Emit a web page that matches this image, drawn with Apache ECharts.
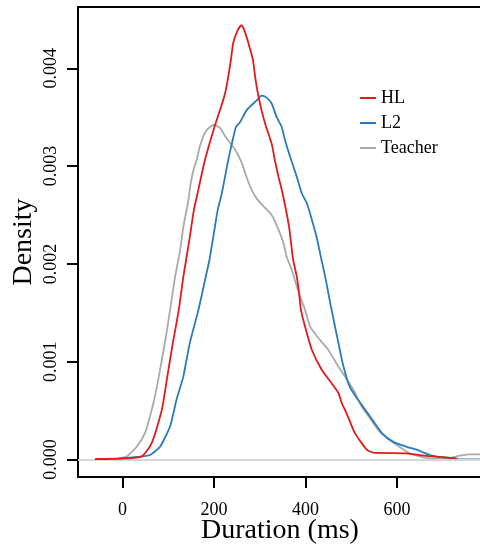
<!DOCTYPE html>
<html>
<head>
<meta charset="utf-8">
<script src="https://cdn.jsdelivr.net/npm/echarts@6/dist/echarts.min.js"></script>
<style>
  html, body { margin: 0; padding: 0; background: #fff; }
  #densityChart { width: 480px; height: 546px; }
</style>
</head>
<body>
<div id="densityChart"></div>
<script>
// duration (ms), density pairs
const hlPoints = [
  [-60, 0.000005], [0, 0.00001], [42, 0.00003], [64, 0.00017], [86, 0.00051],
  [98, 0.00085], [110, 0.00119], [123, 0.00153], [133, 0.00187], [145, 0.00221],
  [156, 0.00255], [164, 0.00272], [180, 0.00306], [201, 0.0034], [213, 0.00357],
  [224, 0.00374], [231, 0.00391], [237, 0.00409], [242, 0.00426], [251, 0.00438],
  [260, 0.00444], [267, 0.00438], [275, 0.00426], [285, 0.00409], [290, 0.00391],
  [296, 0.00374], [304, 0.00357], [314, 0.0034], [326, 0.00323], [333, 0.00306],
  [341, 0.00289], [350, 0.00272], [364, 0.00238], [373, 0.00204], [381, 0.00187],
  [386, 0.0017], [390, 0.00153], [399, 0.00136], [414, 0.00112], [435, 0.00092],
  [457, 0.00078], [472, 0.00068], [479, 0.00058], [490, 0.00047], [508, 0.00027],
  [534, 0.0001], [548, 0.00007], [621, 0.000063], [665, 0.000036], [730, 0.000012]
];

const l2Points = [
  [-21, 0.000002], [38, 0.00003], [60, 0.000046], [82, 0.00013], [104, 0.00034],
  [118, 0.00061], [133, 0.00085], [147, 0.00119], [166, 0.00153], [182, 0.00187],
  [190, 0.00204], [202, 0.00238], [208, 0.00255], [217, 0.00272], [231, 0.00306],
  [239, 0.00323], [248, 0.0034], [257, 0.00345], [271, 0.00357], [286, 0.00364],
  [297, 0.00369], [304, 0.00372], [315, 0.0037], [326, 0.00364], [337, 0.0035],
  [348, 0.0034], [355, 0.00327], [366, 0.0031], [381, 0.00289], [392, 0.00272],
  [403, 0.00262], [414, 0.00245], [424, 0.00228], [435, 0.00204], [443, 0.00187],
  [450, 0.0017], [457, 0.00153], [472, 0.00119], [483, 0.00095], [497, 0.00074],
  [515, 0.00061], [541, 0.00044], [567, 0.00027], [592, 0.00018], [621, 0.00013],
  [643, 0.0001], [672, 0.000046], [701, 0.000022], [738, 0.000002], [790, 0.000002]
];

const teacherPoints = [
  [-10, 0.000012], [9, 0.00003], [31, 0.00013], [49, 0.00027], [64, 0.00051],
  [75, 0.00074], [86, 0.00102], [95, 0.00126], [104, 0.00153], [115, 0.00187],
  [126, 0.00214], [133, 0.00238], [143, 0.00262], [149, 0.00282], [155, 0.00296],
  [162, 0.00306], [169, 0.0032], [180, 0.00334], [191, 0.0034], [202, 0.00342],
  [213, 0.00339], [228, 0.00328], [246, 0.00317], [261, 0.00303], [268, 0.00293],
  [279, 0.00279], [293, 0.00267], [308, 0.00259], [326, 0.0025], [341, 0.00235],
  [352, 0.00221], [359, 0.00207], [370, 0.00194], [379, 0.0018], [388, 0.00167],
  [399, 0.00153], [410, 0.00136], [425, 0.00126], [450, 0.00112], [468, 0.00098],
  [486, 0.00085], [505, 0.00071], [523, 0.00054], [541, 0.00042], [559, 0.0003],
  [578, 0.00022], [599, 0.00015], [621, 0.00008], [643, 0.00004], [672, 0.000012],
  [709, 0.000012], [738, 0.00004], [760, 0.000053], [790, 0.000053]
];

const seriesNames = ["HL", "L2", "Teacher"];
const xTicks = [0, 200, 400, 600];
const yTicks = [0, 0.001, 0.002, 0.003, 0.004];

const chart = echarts.init(document.getElementById("densityChart"));
const serif = "'Liberation Serif', 'DejaVu Serif', serif";
const colors = ["#E31A1C", "#2B7BBA", "#AAAAAA"];

const option = {
  animation: false,
  grid: {
    left: 78, top: 7, width: 404, height: 470,
    outerBoundsMode: "none",
    show: true, borderColor: "#000", borderWidth: 2
  },
  legend: {
    orient: "vertical",
    left: 355, top: 83,
    itemWidth: 16, itemHeight: 2, itemGap: 5,
    icon: "rect",
    data: seriesNames,
    textStyle: { fontFamily: serif, fontSize: 18, color: "#000", lineHeight: 20 }
  },
  xAxis: {
    type: "value",
    min: -97.3, max: 785.8,
    name: "Duration (ms)",
    nameLocation: "middle",
    nameGap: 40,
    nameMoveOverlap: false,
    nameTextStyle: { fontFamily: serif, fontSize: 28, color: "#000" },
    axisLine: { show: true, onZero: false, lineStyle: { color: "#000", width: 2 } },
    axisTick: { show: true, length: 11, customValues: xTicks, lineStyle: { color: "#000", width: 2 } },
    axisLabel: { customValues: xTicks, margin: 24, fontFamily: serif, fontSize: 18, color: "#000" },
    splitLine: { show: false }
  },
  yAxis: {
    type: "value",
    min: -0.000179, max: 0.0046268,
    name: "Density",
    nameLocation: "middle",
    nameGap: 40,
    nameMoveOverlap: false,
    nameTextStyle: { fontFamily: serif, fontSize: 28, color: "#000" },
    axisLine: { show: true, onZero: false, lineStyle: { color: "#000", width: 2 } },
    axisTick: { show: true, length: 11, customValues: yTicks, lineStyle: { color: "#000", width: 2 } },
    axisLabel: {
      customValues: yTicks, rotate: 90, margin: 18,
      fontFamily: serif, fontSize: 18, color: "#000",
      formatter: v => v.toFixed(3)
    },
    splitLine: { show: false }
  },
  series: [
    {
      type: "line", data: [], z: 1, silent: true,
      markLine: {
        silent: true, symbol: "none", animation: false,
        label: { show: false },
        lineStyle: { color: "#D6D6D6", width: 2, type: "solid" },
        data: [{ yAxis: 0 }]
      }
    },
    ...[hlPoints, l2Points, teacherPoints].map((pts, i) => ({
      name: seriesNames[i],
      type: "line",
      data: pts,
      smooth: 0.2,
      showSymbol: false,
      z: 3 + (2 - i),
      itemStyle: { color: colors[i] },
      lineStyle: { color: colors[i], width: 1.8 }
    }))
  ]
};

chart.setOption(option);
</script>
</body>
</html>
